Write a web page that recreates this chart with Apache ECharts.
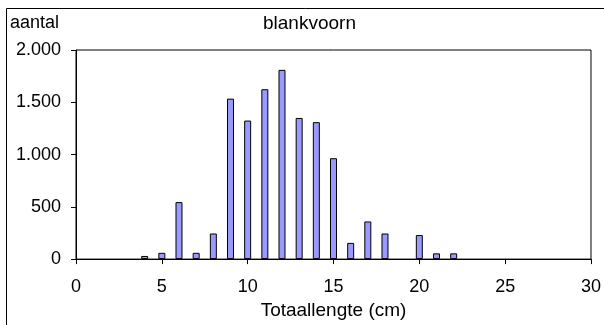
<!DOCTYPE html>
<html>
<head>
<meta charset="utf-8">
<script src="https://cdn.jsdelivr.net/npm/echarts@6/dist/echarts.min.js"></script>
<style>
html,body{margin:0;padding:0;background:#fff;}
#c{width:604px;height:325px;}
</style>
</head>
<body>
<div id="c"></div>
<script>
const lengths = [4, 5, 6, 7, 8, 9, 10, 11, 12, 13, 14, 15, 16, 17, 18, 20, 21, 22];
const counts = [30, 60, 545, 60, 245, 1535, 1325, 1625, 1810, 1350, 1310, 965, 155, 360, 245, 230, 55, 55];
const chartTitle = 'blankvoorn';
const yName = 'aantal';
const xName = 'Totaallengte (cm)';

const FONT = "'Liberation Sans', Arial, sans-serif";
const chart = echarts.init(document.getElementById('c'), null, {renderer: 'canvas'});
const data = lengths.map((x, i) => [x, counts[i]]);

chart.setOption({
  animation: false,
  backgroundColor: '#fff',
  title: [
    {text: chartTitle, left: 263, top: 14, padding: 0,
     textStyle: {fontFamily: FONT, fontSize: 19, fontWeight: 'normal', color: '#000'}},
    {text: yName, left: 10, top: 14, padding: 0,
     textStyle: {fontFamily: FONT, fontSize: 18, fontWeight: 'normal', color: '#000'}}
  ],
  graphic: [
    {type: 'rect', silent: true, z: 100,
     shape: {x: 6.5, y: 8.5, width: 700, height: 400},
     style: {fill: 'none', stroke: '#000', lineWidth: 1}}
  ],
  grid: {left: 76, right: 8, top: 50, bottom: 65, show: true, borderColor: '#000', borderWidth: 1, backgroundColor: 'transparent'},
  xAxis: {
    type: 'value', min: 0, max: 30, interval: 5,
    name: xName, nameLocation: 'middle', nameGap: 39,
    nameTextStyle: {fontFamily: FONT, fontSize: 19, color: '#000'},
    axisLine: {show: true, onZero: false, lineStyle: {color: '#000', width: 1}},
    axisTick: {show: true, length: 5, lineStyle: {color: '#000'}},
    axisLabel: {fontFamily: FONT, fontSize: 18, color: '#000', margin: 19},
    splitLine: {show: false}
  },
  yAxis: {
    type: 'value', min: 0, max: 2000, interval: 500,
    axisLine: {show: true, lineStyle: {color: '#000', width: 1}},
    axisTick: {show: true, length: 5, lineStyle: {color: '#000'}},
    axisLabel: {fontFamily: FONT, fontSize: 18, color: '#000', margin: 15,
      formatter: v => String(v).replace(/\B(?=(\d{3})+(?!\d))/g, '.')},
    splitLine: {show: false}
  },
  series: [{
    type: 'bar',
    data: data,
    barWidth: 7,
    itemStyle: {color: '#9999ff', borderColor: '#000', borderWidth: 1}
  }]
});
</script>
</body>
</html>
